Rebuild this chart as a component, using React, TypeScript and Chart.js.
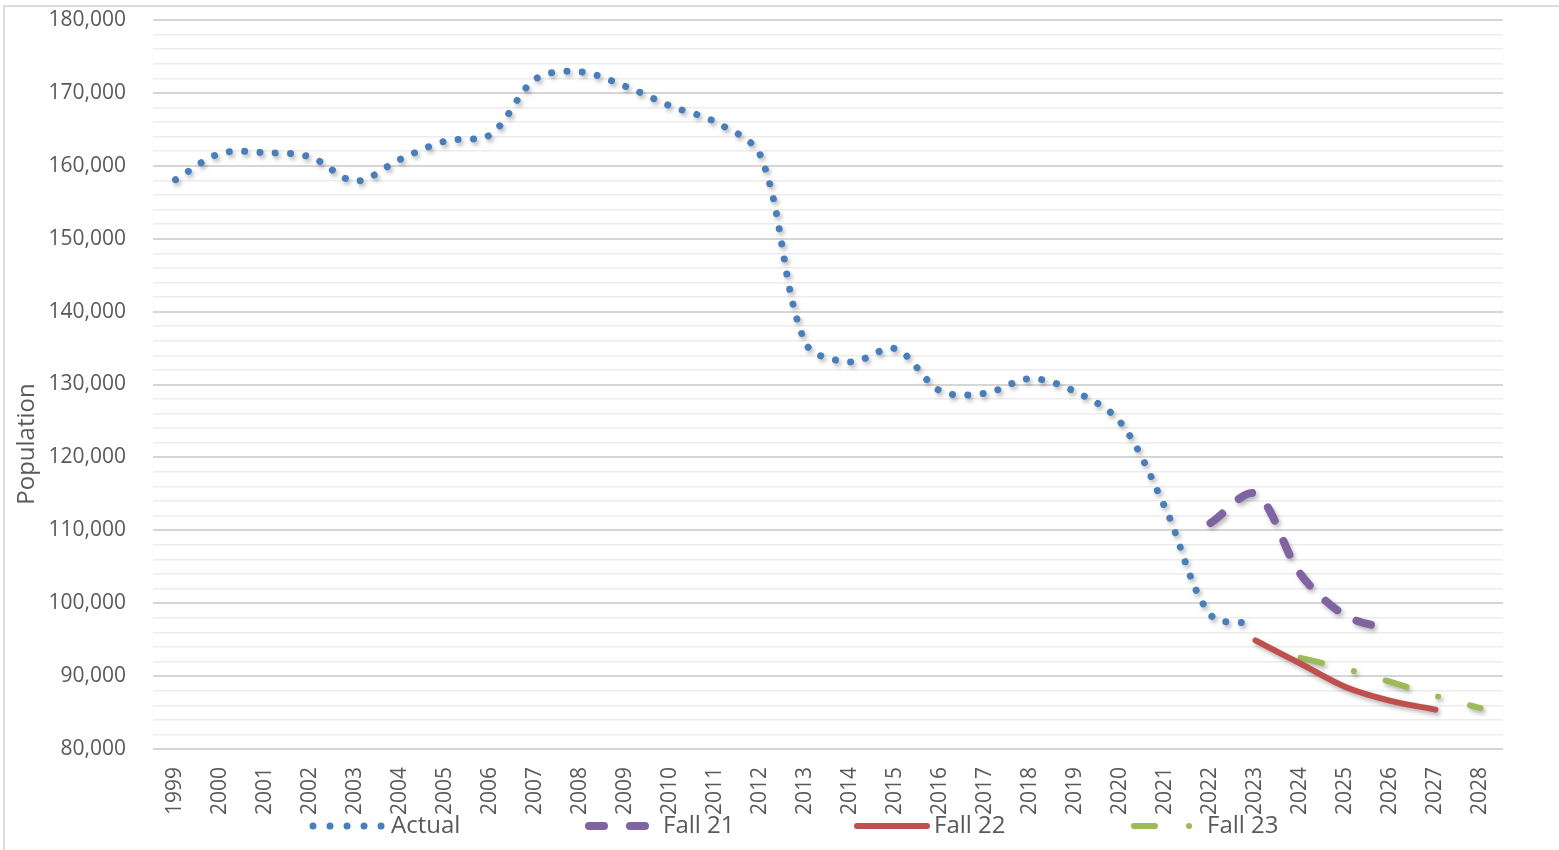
import React, { useEffect, useRef } from 'react';
import { Chart, registerables } from 'chart.js';

Chart.register(...registerables);

const years = [
  '1999', '2000', '2001', '2002', '2003', '2004', '2005', '2006', '2007', '2008',
  '2009', '2010', '2011', '2012', '2013', '2014', '2015', '2016', '2017', '2018',
  '2019', '2020', '2021', '2022', '2023', '2024', '2025', '2026', '2027', '2028',
];

const actual = [
  158100, 161700, 161800, 161200, 157900, 160900, 163400, 164300, 171900, 172900,
  170900, 168200, 166000, 161400, 135700, 133100, 134900, 129100, 128800, 130800,
  129000, 124800, 113000, 98400, 97200, null, null, null, null, null,
];

const fall21 = [
  null, null, null, null, null, null, null, null, null, null,
  null, null, null, null, null, null, null, null, null, null,
  null, null, null, 111000, 115000, 104000, 98300, 96400, null, null,
];

const fall22 = [
  null, null, null, null, null, null, null, null, null, null,
  null, null, null, null, null, null, null, null, null, null,
  null, null, null, null, 94900, 91700, 88500, 86600, 85400, null,
];

const fall23 = [
  null, null, null, null, null, null, null, null, null, null,
  null, null, null, null, null, null, null, null, null, null,
  null, null, null, null, null, 92500, 91000, 89200, 87300, 85600,
];

const seriesNames = ['Actual', 'Fall 21', 'Fall 22', 'Fall 23'];
const yTitle = 'Population';

const FONT = '"Open Sans", sans-serif';
const TEXT = '#595959';
const BLUE = '#4a7ebb';
const PURPLE = '#8064a2';
const RED = '#c0504d';
const GREEN = '#9bbb59';

export default function App() {
  const ref = useRef<HTMLCanvasElement | null>(null);

  useEffect(() => {
    if (!ref.current) return;

    const legendItems = [
      { label: seriesNames[0], color: BLUE, width: 7, dash: [0.01, 17], x0: 313, x1: 382, tx: 391 },
      { label: seriesNames[1], color: PURPLE, width: 8, dash: [15, 26], x0: 589, x1: 645, tx: 663 },
      { label: seriesNames[2], color: RED, width: 6, dash: [], x0: 857, x1: 927, tx: 934 },
      { label: seriesNames[3], color: GREEN, width: 6, dash: [21, 34, 0.01, 100], x0: 1134, x1: 1190, tx: 1207 },
    ];

    const shadow = {
      id: 'shadow',
      beforeDatasetDraw(chart: any) {
        const ctx = chart.ctx;
        ctx.save();
        ctx.shadowColor = 'rgba(0,0,0,0.28)';
        ctx.shadowBlur = 4;
        ctx.shadowOffsetX = 2;
        ctx.shadowOffsetY = 3;
      },
      afterDatasetDraw(chart: any) {
        chart.ctx.restore();
      },
    };

    const decor = {
      id: 'decor',
      afterDraw(chart: any) {
        const ctx = chart.ctx as CanvasRenderingContext2D;
        ctx.save();
        ctx.translate(27, 444);
        ctx.rotate(-Math.PI / 2);
        ctx.font = `24px ${FONT}`;
        ctx.fillStyle = TEXT;
        ctx.textAlign = 'center';
        ctx.textBaseline = 'middle';
        ctx.fillText(yTitle, 0, 0);
        ctx.restore();

        const ly = 826;
        legendItems.forEach((it) => {
          ctx.save();
          ctx.strokeStyle = it.color;
          ctx.lineWidth = it.width;
          ctx.lineCap = 'round';
          ctx.setLineDash(it.dash);
          ctx.beginPath();
          ctx.moveTo(it.x0, ly);
          ctx.lineTo(it.x1, ly);
          ctx.stroke();
          ctx.restore();
          ctx.save();
          ctx.font = `24px ${FONT}`;
          ctx.fillStyle = TEXT;
          ctx.textAlign = 'left';
          ctx.textBaseline = 'middle';
          ctx.fillText(it.label, it.tx, ly);
          ctx.restore();
        });
      },
    };

    const common = {
      pointRadius: 0,
      pointHoverRadius: 0,
      tension: 0.33,
      fill: false,
      borderCapStyle: 'round' as const,
      borderJoinStyle: 'round' as const,
      spanGaps: false,
    };

    const chart = new Chart(ref.current, {
      type: 'line',
      data: {
        labels: years,
        datasets: [
          { ...common, label: seriesNames[0], data: actual, borderColor: BLUE, borderWidth: 7, borderDash: [0.01, 15.3] },
          { ...common, label: seriesNames[1], data: fall21, borderColor: PURPLE, borderWidth: 8, borderDash: [15, 22] },
          { ...common, label: seriesNames[2], data: fall22, borderColor: RED, borderWidth: 6 },
          { ...common, label: seriesNames[3], data: fall23, borderColor: GREEN, borderWidth: 6, borderDash: [22, 33, 0.01, 33] },
        ],
      },
      options: {
        responsive: false,
        animation: false,
        events: [],
        layout: { padding: { left: 0, right: 56, top: 20, bottom: 26 } },
        plugins: {
          legend: { display: false },
          tooltip: { enabled: false },
          title: { display: false },
        },
        scales: {
          x: {
            offset: true,
            grid: { display: false, offset: true },
            border: { display: false },
            ticks: {
              autoSkip: false,
              minRotation: 90,
              maxRotation: 90,
              padding: 10,
              color: TEXT,
              font: { family: FONT, size: 21 },
            },
            afterFit(scale: any) {
              scale.height = 75;
            },
          },
          y: {
            min: 80000,
            max: 180000,
            border: { display: false },
            grid: {
              drawTicks: true,
              tickLength: 27,
              tickColor: 'rgba(0,0,0,0)',
              color: (c: any) => (c.tick && c.tick.value % 10000 === 0 ? '#d6d6d6' : '#ececec'),
              lineWidth: (c: any) => (c.tick && c.tick.value % 10000 === 0 ? 2 : 1.5),
            },
            ticks: {
              stepSize: 2000,
              autoSkip: false,
              padding: 0,
              color: TEXT,
              font: { family: FONT, size: 21 },
              callback: (v: any) => (Number(v) % 10000 === 0 ? Number(v).toLocaleString('en-US') : ''),
            },
            afterFit(scale: any) {
              scale.width = 153;
            },
          },
        },
      },
      plugins: [shadow, decor],
    });

    return () => chart.destroy();
  }, []);

  return (
    <div style={{ position: 'fixed', left: 0, top: 0, width: 1559, height: 850, overflow: 'hidden', background: '#fff' }}>
      <div
        style={{
          position: 'absolute',
          left: 3,
          top: 5,
          width: 1620,
          height: 920,
          border: '2px solid #dcdcdc',
          boxSizing: 'border-box',
        }}
      />
      <canvas ref={ref} width={1559} height={850} style={{ position: 'absolute', left: 0, top: 0 }} />
    </div>
  );
}
